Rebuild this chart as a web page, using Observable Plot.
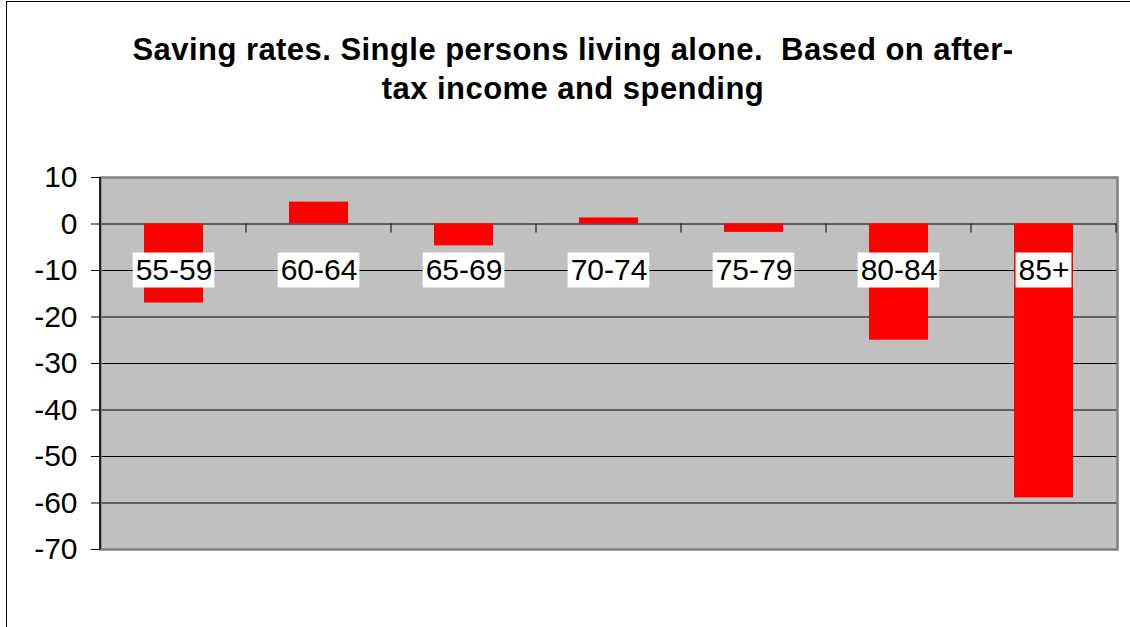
<!DOCTYPE html>
<html><head><meta charset="utf-8">
<script src="https://cdn.jsdelivr.net/npm/d3@7"></script>
<script src="https://cdn.jsdelivr.net/npm/@observablehq/plot@0.6"></script>
<style>
html,body{margin:0;padding:0;background:#fff;overflow:hidden;}
#wrap{position:relative;width:1130px;height:627px;font-family:Arial,"Liberation Sans",sans-serif;overflow:hidden;}
#frame{position:absolute;left:6px;top:1px;width:1300px;height:800px;border:1.5px solid #000;box-sizing:border-box;}
#title{position:absolute;left:4px;width:1138px;top:30px;text-align:center;font-weight:bold;font-size:31px;letter-spacing:0.45px;line-height:39px;white-space:pre;color:#000;}
#chart{position:absolute;left:0;top:0;}
</style></head><body>
<div id="wrap"><div id="frame"></div><div id="chart"></div><div id="title"></div></div>
<script>
const titleLines = ["Saving rates. Single persons living alone.  Based on after-", "tax income and spending"];
const ages = ["55-59", "60-64", "65-69", "70-74", "75-79", "80-84", "85+"];
const rates = [-17.0, 4.7, -4.7, 1.3, -1.8, -25.0, -58.9];
const yTicks = [10, 0, -10, -20, -30, -40, -50, -60, -70];
const labelLevel = -10;
const labelFontSize = 30;

document.getElementById("title").textContent = titleLines.join("\n");

const data = ages.map((age, i) => ({age, rate: rates[i]}));
const gridValues = yTicks.filter(v => v < d3.max(yTicks) && v > d3.min(yTicks));

function bandwidthOf(x) {
  let bw = x.bandwidth;
  if (typeof bw === "function") bw = bw();
  return bw;
}

function decorations(index, scales, values, dims) {
  const g = d3.create("svg:g");
  const x = scales.x, y = scales.y;
  const bw = bandwidthOf(x);
  const step = x(ages[1]) - x(ages[0]);
  const y0 = y(0);
  g.append("line")
    .attr("x1", dims.marginLeft).attr("x2", dims.marginLeft)
    .attr("y1", dims.marginTop).attr("y2", dims.height - dims.marginBottom)
    .attr("stroke", "#000").attr("stroke-width", 1.5);
  for (const a of ages) {
    const bx = x(a) + bw + (step - bw) / 2;
    g.append("line").attr("x1", bx).attr("x2", bx)
      .attr("y1", y0).attr("y2", y0 + 9)
      .attr("stroke", "#000").attr("stroke-width", 1);
  }
  return g.node();
}

function labelBoxes(index, scales) {
  const g = d3.create("svg:g");
  const x = scales.x, y = scales.y;
  const bw = bandwidthOf(x);
  const ctx = document.createElement("canvas").getContext("2d");
  ctx.font = `${labelFontSize}px "Liberation Sans", Arial, sans-serif`;
  const cy = y(labelLevel);
  for (const a of ages) {
    const w = ctx.measureText(a).width + 5;
    const cx = x(a) + bw / 2;
    g.append("rect").attr("x", cx - w / 2).attr("y", cy - 17.5)
      .attr("width", w).attr("height", 35).attr("fill", "#fff");
  }
  return g.node();
}

const chart = Plot.plot({
  width: 1130,
  height: 627,
  marginTop: 177,
  marginBottom: 78,
  marginLeft: 100,
  marginRight: 13,
  style: {fontFamily: "Arial, 'Liberation Sans', sans-serif", color: "#000", background: "transparent", overflow: "visible"},
  x: {domain: ages, paddingInner: 0.59, paddingOuter: 0.295, axis: null},
  y: {domain: [d3.min(yTicks), d3.max(yTicks)], axis: null},
  marks: [
    Plot.frame({fill: "#C0C0C0"}),
    Plot.ruleY(gridValues, {stroke: "#000", strokeWidth: 1}),
    Plot.barY(data, {x: "age", y: "rate", fill: "#FF0000"}),
    Plot.frame({stroke: "#808080", strokeWidth: 2.5}),
    decorations,
    labelBoxes,
    Plot.text(data, {x: "age", y: () => labelLevel, text: "age", fontSize: labelFontSize, fill: "#000"}),
    Plot.axisY({ticks: yTicks, label: null, tickSize: 9, tickPadding: 14, fontSize: 30, tickFormat: d => String(d), stroke: "#000"})
  ]
});
document.getElementById("chart").appendChild(chart);
</script>
</body></html>
